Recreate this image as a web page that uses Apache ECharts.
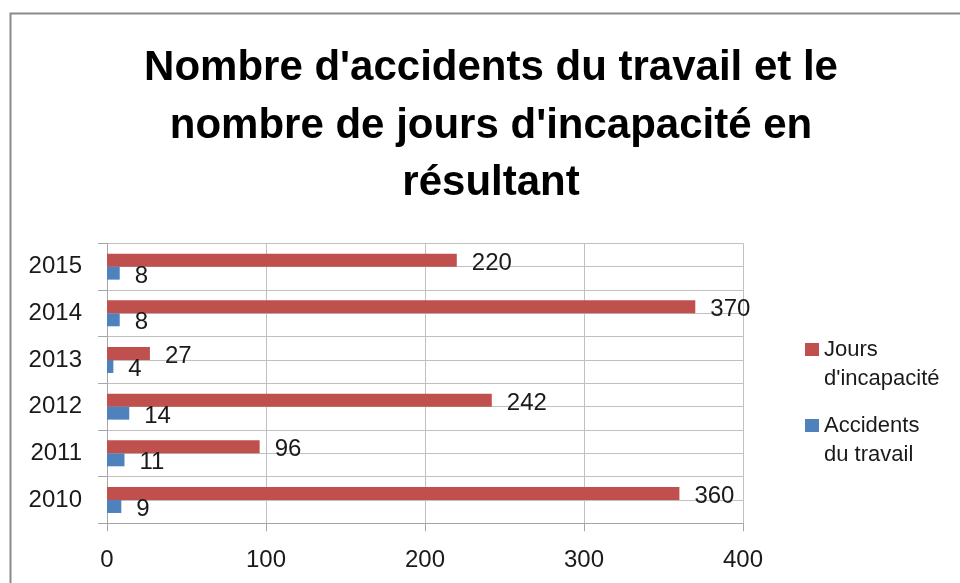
<!DOCTYPE html>
<html>
<head>
<meta charset="utf-8">
<script src="https://cdn.jsdelivr.net/npm/echarts@6/dist/echarts.min.js"></script>
<style>
	html, body { margin: 0; padding: 0; background: #fff; }
	#chart { width: 960px; height: 583px; }
</style>
</head>
<body>
<div id="chart"></div>
<script>
// années (de bas en haut)
var annees = ['2010', '2011', '2012', '2013', '2014', '2015'];
// nombre d'accidents du travail
var accidents = [9, 11, 14, 4, 8, 8];
// nombre de jours d'incapacité
var joursIncapacite = [360, 96, 242, 27, 370, 220];
var ticksX = [0, 100, 200, 300, 400];

var police = '"Liberation Sans", Arial, sans-serif';

var myChart = echarts.init(document.getElementById('chart'));

var etiquette = {
	show : true,
	position : 'right',
	distance : 15,
	offset : [ 0, 3 ],
	fontFamily : police,
	fontSize : 24,
	color : '#1a1a1a'
};

var option = {
	animation : false,
	backgroundColor : '#fff',
	title : {
		text : 'Nombre d\'accidents du travail et le\nnombre de jours d\'incapacité en\nrésultant',
		left : 491,
		textAlign : 'center',
		top : 40,
		padding : 0,
		textStyle : {
			fontFamily : police,
			fontWeight : 'bold',
			fontSize : 42,
			lineHeight : 57.5,
			color : '#000'
		}
	},
	// cadre du graphique
	graphic : [ {
		type : 'rect',
		shape : { x : 10.5, y : 13.5, width : 1200, height : 1200 },
		style : { fill : 'none', stroke : '#8a8a8a', lineWidth : 2 },
		silent : true
	} ],
	legend : {
		orient : 'vertical',
		left : 805,
		top : 306,
		padding : 0,
		icon : 'rect',
		itemWidth : 14,
		itemHeight : 13,
		itemGap : -11,
		data : [ 'Jours d\'incapacité', 'Accidents du travail' ],
		// ligne vide en tête : le carré reste aligné sur la première ligne
		formatter : function(name) {
			return '\n' + name.replace(' ', '\n');
		},
		textStyle : {
			fontFamily : police,
			fontSize : 22,
			lineHeight : 29,
			color : '#1a1a1a'
		}
	},
	grid : {
		left : 107,
		right : 217,
		top : 243.3,
		bottom : 59.7
	},
	xAxis : {
		type : 'value',
		min : ticksX[0],
		max : ticksX[ticksX.length - 1],
		interval : 100,
		axisLine : { show : true, lineStyle : { color : '#a6a6a6' } },
		axisTick : { show : true, length : 8, lineStyle : { color : '#a6a6a6' } },
		axisLabel : {
			margin : 25,
			fontFamily : police,
			fontSize : 24,
			color : '#1a1a1a'
		},
		splitLine : { show : true, lineStyle : { color : '#c0c0c0' } }
	},
	yAxis : [ {
		type : 'category',
		data : annees,
		axisLine : { show : true, lineStyle : { color : '#a6a6a6' } },
		axisTick : { show : true, length : 9, lineStyle : { color : '#a6a6a6' } },
		axisLabel : {
			margin : 25,
			fontFamily : police,
			fontSize : 24,
			color : '#1a1a1a'
		},
		splitLine : { show : false }
	}, {
		// lignes de quadrillage à chaque demi-catégorie
		type : 'value',
		min : 0,
		max : annees.length * 2,
		interval : 1,
		position : 'left',
		axisLine : { show : false },
		axisTick : { show : false },
		axisLabel : { show : false },
		splitLine : { show : true, lineStyle : { color : '#c0c0c0' } }
	} ],
	series : [ {
		name : 'Jours d\'incapacité',
		type : 'bar',
		yAxisIndex : 0,
		data : joursIncapacite,
		barWidth : 13,
		barGap : '0%',
		itemStyle : { color : '#c0504d' },
		label : etiquette
	}, {
		name : 'Accidents du travail',
		type : 'bar',
		yAxisIndex : 0,
		data : accidents,
		barWidth : 13,
		barGap : '0%',
		itemStyle : { color : '#4f81bd' },
		label : etiquette
	} ]
};

myChart.setOption(option);
</script>
</body>
</html>
